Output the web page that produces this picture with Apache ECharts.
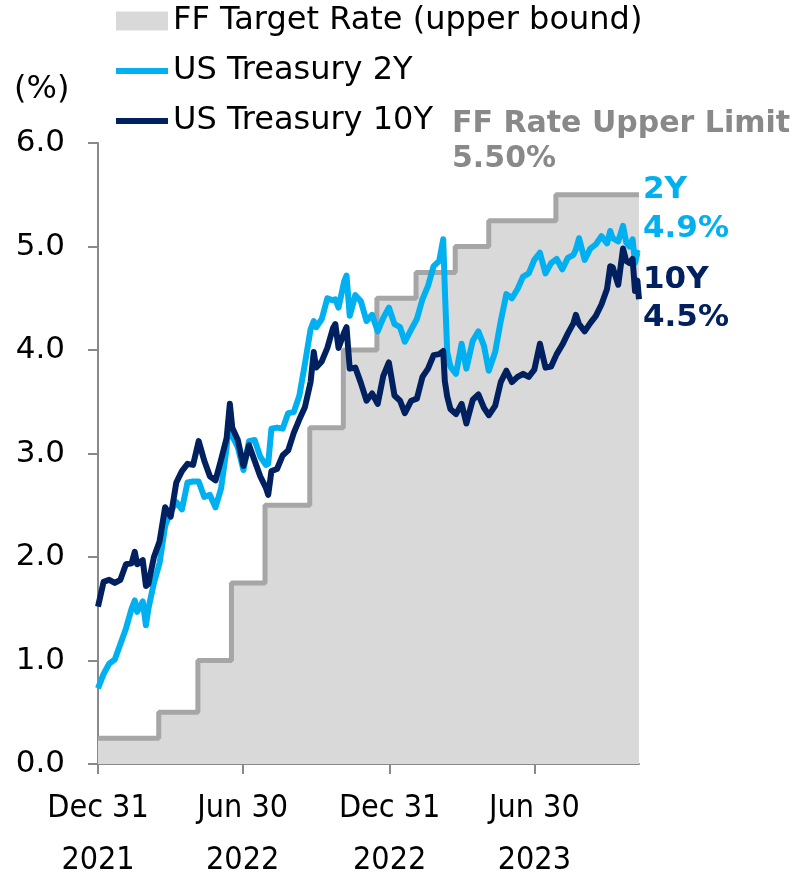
<!DOCTYPE html>
<html>
<head>
<meta charset="utf-8">
<script src="https://cdn.jsdelivr.net/npm/echarts@6/dist/echarts.min.js"></script>
<style>
html,body{margin:0;padding:0;background:#fff;}
#chart{width:792px;height:876px;}
</style>
</head>
<body>
<div id="chart"></div>
<script>
// ---- data ----
const dates = [
 '2021-12-31',
 '2022-01-07','2022-01-14','2022-01-21','2022-01-28','2022-02-04','2022-02-11','2022-02-15','2022-02-18','2022-02-25',
 '2022-03-01','2022-03-04','2022-03-11','2022-03-18','2022-03-25','2022-04-01','2022-04-08','2022-04-15','2022-04-22','2022-04-29',
 '2022-05-06','2022-05-13','2022-05-20','2022-05-27','2022-06-03','2022-06-10','2022-06-14','2022-06-17','2022-06-24','2022-07-01',
 '2022-07-08','2022-07-15','2022-07-22','2022-07-29','2022-08-01','2022-08-05','2022-08-12','2022-08-19','2022-08-26','2022-09-02',
 '2022-09-09','2022-09-16','2022-09-23','2022-09-27','2022-09-30','2022-10-07','2022-10-14','2022-10-21','2022-10-24','2022-10-28',
 '2022-11-04','2022-11-07','2022-11-11','2022-11-18','2022-11-25','2022-12-02','2022-12-09','2022-12-16','2022-12-23','2022-12-30',
 '2023-01-06','2023-01-13','2023-01-19','2023-01-27','2023-02-03','2023-02-10','2023-02-17','2023-02-24','2023-03-03','2023-03-08',
 '2023-03-10','2023-03-13','2023-03-17','2023-03-24','2023-03-31','2023-04-06','2023-04-14','2023-04-21','2023-04-28','2023-05-04',
 '2023-05-12','2023-05-19','2023-05-26','2023-06-02','2023-06-09','2023-06-16','2023-06-23','2023-06-30','2023-07-07','2023-07-14',
 '2023-07-21','2023-07-28','2023-08-04','2023-08-11','2023-08-18','2023-08-21','2023-08-25','2023-09-01','2023-09-08','2023-09-15',
 '2023-09-22','2023-09-29','2023-10-03','2023-10-06','2023-10-13','2023-10-19','2023-10-23','2023-10-27','2023-10-31','2023-11-03',
 '2023-11-06','2023-11-08'
];
const ust2y = [
 0.73,
 0.87,0.97,1.01,1.16,1.31,1.50,1.58,1.47,1.57,
 1.34,1.50,1.75,1.94,2.30,2.44,2.53,2.46,2.72,2.73,
 2.73,2.58,2.60,2.48,2.66,3.06,3.43,3.17,3.06,2.84,
 3.12,3.13,2.97,2.89,2.90,3.24,3.25,3.24,3.39,3.40,
 3.56,3.87,4.20,4.28,4.22,4.30,4.50,4.48,4.49,4.41,
 4.66,4.72,4.33,4.53,4.47,4.28,4.34,4.18,4.31,4.41,
 4.25,4.22,4.08,4.20,4.30,4.49,4.62,4.81,4.86,5.07,
 4.59,3.98,3.84,3.77,4.06,3.82,4.09,4.18,4.04,3.80,
 3.98,4.28,4.54,4.50,4.59,4.71,4.74,4.87,4.94,4.74,
 4.84,4.88,4.78,4.89,4.92,4.97,5.08,4.87,4.98,5.02,
 5.10,5.03,5.15,5.08,5.05,5.20,5.04,5.00,5.07,4.84,
 4.94,4.93
];
const ust10y = [
 1.52,
 1.76,1.78,1.75,1.78,1.93,1.94,2.05,1.93,1.97,
 1.72,1.74,2.00,2.15,2.48,2.39,2.72,2.83,2.90,2.89,
 3.12,2.93,2.78,2.74,2.94,3.15,3.48,3.25,3.13,2.88,
 3.08,2.93,2.78,2.67,2.60,2.83,2.85,2.98,3.03,3.20,
 3.33,3.45,3.69,3.98,3.83,3.89,4.02,4.21,4.25,4.02,
 4.17,4.22,3.82,3.83,3.68,3.51,3.58,3.48,3.75,3.88,
 3.56,3.51,3.39,3.51,3.53,3.74,3.82,3.95,3.96,3.99,
 3.70,3.55,3.43,3.38,3.48,3.29,3.52,3.57,3.44,3.37,
 3.46,3.69,3.80,3.69,3.74,3.77,3.74,3.81,4.06,3.83,
 3.84,3.96,4.05,4.16,4.26,4.34,4.25,4.18,4.26,4.33,
 4.44,4.59,4.81,4.80,4.63,4.98,4.86,4.84,4.88,4.57,
 4.67,4.49
];
const ffDates = ['2021-12-31','2022-03-17','2022-05-05','2022-06-16','2022-07-28','2022-09-22','2022-11-03','2022-12-15','2023-02-02','2023-03-23','2023-05-04','2023-07-27','2023-11-08'];
const ffRate  = [0.25,0.50,1.00,1.75,2.50,3.25,4.00,4.50,4.75,5.00,5.25,5.50,5.50];

const tickDates = ['2021-12-31','2022-06-30','2022-12-31','2023-06-30'];
const tickTop = ['Dec 31','Jun 30','Dec 31','Jun 30'];
const tickBottom = ['2021','2022','2022','2023'];

const seriesNames = ['FF Target Rate (upper bound)','US Treasury 2Y','US Treasury 10Y'];
const endNames = ['2Y','10Y'];
const ffNoteTitle = 'FF Rate Upper Limit';

// ---- build ----
function ts(s){const p=s.split('-').map(Number);return Date.UTC(p[0],p[1]-1,p[2]);}
const pair = (ds, vs) => ds.map((d,i)=>[ts(d), vs[i]]);
const tickTs = tickDates.map(ts);
const last2 = ust2y[ust2y.length-1], last10 = ust10y[ust10y.length-1];
const lastFF = ffRate[ffRate.length-1];

const FONT = '"DejaVu Sans", Verdana, sans-serif';
const AXIS = '#898989';
const LINE_ICON = 'path://M0,0 L52,0 L52,6 L0,6 Z';

const chart = echarts.init(document.getElementById('chart'), null, {renderer:'canvas'});
chart.setOption({
  animation: false,
  backgroundColor: '#fff',
  grid: {left: 98, right: 153, top: 143, bottom: 112, containLabel: false, outerBoundsMode: 'none'},
  legend: {
    orient: 'vertical', left: 116, top: 5, padding: 0,
    itemWidth: 52, itemHeight: 19, itemGap: 18, selectedMode: false,
    textStyle: {fontFamily: FONT, fontSize: 32, lineHeight: 32, color: '#000'},
    itemStyle: {borderWidth: 0},
    data: [
      {name: seriesNames[0], icon: 'rect', itemStyle: {color: '#d9d9d9', borderWidth: 0}},
      {name: seriesNames[1], icon: LINE_ICON, itemStyle: {color: '#00b0f0', borderWidth: 0}},
      {name: seriesNames[2], icon: LINE_ICON, itemStyle: {color: '#002060', borderWidth: 0}}
    ]
  },
  xAxis: {
    type: 'value',
    min: ts(dates[0]), max: ts(dates[dates.length-1]),
    axisLine: {show: true, onZero: false, lineStyle: {color: AXIS, width: 2}},
    axisTick: {show: true, customValues: tickTs, length: 10, lineStyle: {color: AXIS, width: 2}},
    splitLine: {show: false},
    axisLabel: {
      customValues: tickTs,
      formatter: function(v){ const i = tickTs.indexOf(v); return i < 0 ? '' : tickTop[i] + '\n' + tickBottom[i]; },
      fontFamily: '"DejaVu Sans Condensed", "Liberation Sans Narrow", sans-serif',
      fontSize: 32, lineHeight: 52, margin: 19, color: '#000',
      showMinLabel: true, showMaxLabel: true, hideOverlap: false
    }
  },
  yAxis: {
    type: 'value', min: 0, max: 6, interval: 1,
    axisLine: {show: true, lineStyle: {color: AXIS, width: 2}},
    axisTick: {show: true, length: 10, lineStyle: {color: AXIS, width: 2}},
    splitLine: {show: false},
    axisLabel: {formatter: v => v.toFixed(1), fontFamily: FONT, fontSize: 31, color: '#000', margin: 33}
  },
  series: [
    {
      name: seriesNames[0], type: 'line', step: 'end', symbol: 'none', z: 1,
      data: pair(ffDates, ffRate),
      itemStyle: {color: '#a6a6a6'},
      lineStyle: {color: '#a6a6a6', width: 5},
      areaStyle: {color: '#d9d9d9', opacity: 1}
    },
    {
      name: seriesNames[1], type: 'line', symbol: 'none', z: 3,
      data: pair(dates, ust2y),
      itemStyle: {color: '#00b0f0'},
      lineStyle: {color: '#00b0f0', width: 6, join: 'round'},
      endLabel: {
        show: true, distance: 4, offset: [0, -44],
        formatter: () => endNames[0] + '\n' + last2.toFixed(1) + '%',
        fontFamily: FONT, fontWeight: 'bold', fontSize: 31, lineHeight: 39, color: '#00b0f0'
      }
    },
    {
      name: seriesNames[2], type: 'line', symbol: 'none', z: 4,
      data: pair(dates, ust10y),
      itemStyle: {color: '#002060'},
      lineStyle: {color: '#002060', width: 6, join: 'round'},
      endLabel: {
        show: true, distance: 4, offset: [0, 0],
        formatter: () => endNames[1] + '\n' + last10.toFixed(1) + '%',
        fontFamily: FONT, fontWeight: 'bold', fontSize: 31, lineHeight: 38, color: '#002060'
      }
    }
  ],
  graphic: [
    {type: 'text', left: 14, top: 74, style: {text: '(%)', font: '32px ' + FONT, fill: '#000'}},
    {type: 'text', left: 452, top: 107, style: {text: ffNoteTitle + '\n' + lastFF.toFixed(2) + '%', font: 'bold 30px ' + FONT, lineHeight: 35, fill: '#898989'}}
  ]
});
</script>
</body>
</html>
